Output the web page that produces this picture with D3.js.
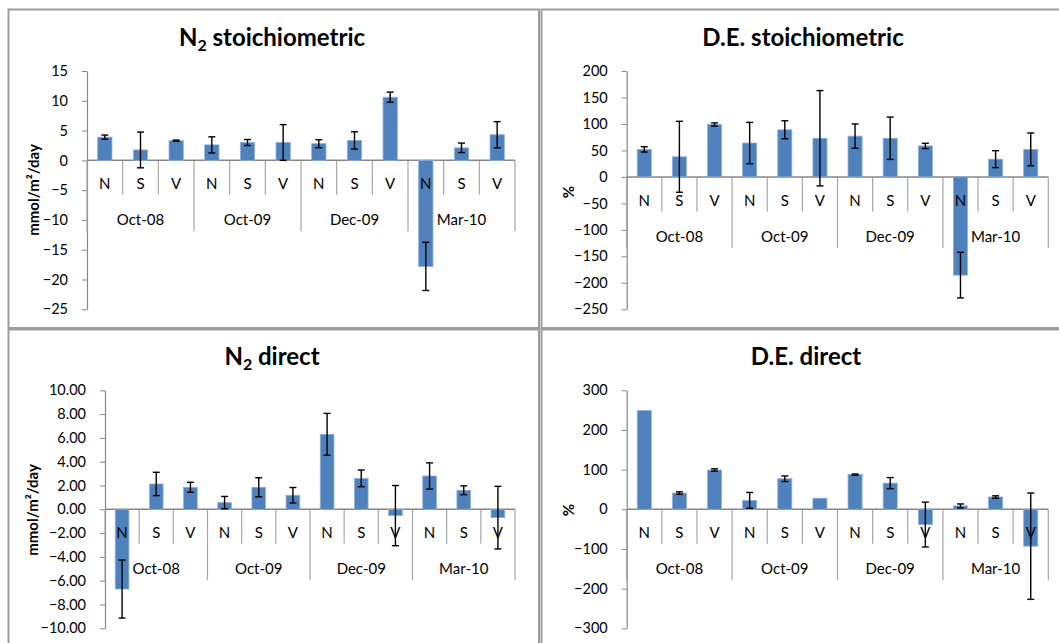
<!DOCTYPE html>
<html>
<head>
<meta charset="utf-8">
<script src="https://cdn.jsdelivr.net/npm/d3@7"></script>
<style>
  body { margin: 0; background: #fff; }
  svg { display: block; font-family: Lato, "Open Sans", sans-serif; }
</style>
</head>
<body>
<svg id="chart" width="1059" height="643"></svg>
<script>
const sites = ['N', 'S', 'V'];
const campaigns = ['Oct-08', 'Oct-09', 'Dec-09', 'Mar-10'];

// N2 stoichiometric (mmol/m2/day)
const n2StoichMean = [3.9, 1.75, 3.3, 2.6, 3.0, 3.0, 2.8, 3.35, 10.6, -17.8, 2.1, 4.3];
const n2StoichErr = [0.35, 3.0, 0.1, 1.35, 0.5, 3.0, 0.67, 1.45, 0.85, 4.05, 0.8, 2.2];
const n2StoichTicks = [15, 10, 5, 0, -5, -10, -15, -20, -25];

// D.E. stoichiometric (%)
const deStoichMean = [52, 38, 99, 64, 89, 73, 77, 73, 58.5, -185.5, 33.5, 52];
const deStoichErr = [5, 67, 3, 39, 17, 90, 23, 40, 5, 43, 16, 31];
const deStoichTicks = [200, 150, 100, 50, 0, -50, -100, -150, -200, -250];

// N2 direct (mmol/m2/day)
const n2DirectMean = [-6.7, 2.13, 1.85, 0.56, 1.85, 1.18, 6.3, 2.6, -0.53, 2.8, 1.6, -0.7];
const n2DirectErr = [2.44, 0.98, 0.42, 0.52, 0.8, 0.65, 1.76, 0.7, 2.53, 1.1, 0.37, 2.63];
const n2DirectTicks = [10, 8, 6, 4, 2, 0, -2, -4, -6, -8, -10];

// D.E. direct (%)
const deDirectMean = [249, 41, 99, 22.5, 77, 28, 87.5, 66, -38.5, 8.5, 31, -93];
const deDirectErr = [0, 3, 3, 20, 7, 0, 1.5, 14, 56.5, 5, 3, 134];
const deDirectTicks = [300, 200, 100, 0, -100, -200, -300];

const keys = campaigns.flatMap(c => sites.map(s => c + '|' + s));
const svg = d3.select('#chart');

const axisGrey = '#868686';
const barBlue = '#4f81bd';

const drawPanel = (o) => {
    const g = svg.append('g');

    // frame
    g.append('rect')
        .attr('x', o.frame[0]).attr('y', o.frame[1])
        .attr('width', o.frame[2]).attr('height', o.frame[3])
        .attr('fill', '#fff')
        .attr('stroke', '#9c9c9c')
        .attr('stroke-width', 2);

    const x = d3.scaleBand()
        .domain(keys)
        .range([o.x0, o.x1])
        .paddingInner(0.6)
        .paddingOuter(0.3);
    const step = x.step();

    const y = d3.scaleLinear()
        .domain([o.ticks[o.ticks.length - 1], o.ticks[0]])
        .range([o.yBot, o.yTop]);
    const y0 = y(0);

    // title
    const t = g.append('text')
        .attr('x', o.titleX).attr('y', o.titleY)
        .attr('text-anchor', 'middle')
        .attr('font-weight', 'bold')
        .attr('font-size', 24)
        .attr('fill', '#000');
    o.title.forEach(p => {
        const ts = t.append('tspan').text(p.text);
        if (p.sub) ts.attr('font-size', 16).attr('dy', 5);
        if (p.after) ts.attr('dy', -5);
    });

    // y axis title
    g.append('text')
        .attr('transform', `translate(${o.yTitleX},${o.yTitleY}) rotate(-90)`)
        .attr('text-anchor', 'middle')
        .attr('font-weight', 'bold')
        .attr('font-size', 15)
        .text(o.yTitle);

    // y axis
    const yAxis = d3.axisLeft(y)
        .tickValues(o.ticks)
        .tickFormat(o.fmt)
        .tickSizeInner(5)
        .tickSizeOuter(0)
        .tickPadding(14);
    const ya = g.append('g')
        .attr('transform', `translate(${o.x0},0)`)
        .call(yAxis);
    ya.select('.domain').attr('stroke', axisGrey).attr('stroke-width', 1.2);
    ya.selectAll('.tick line').attr('stroke', axisGrey);
    ya.selectAll('.tick text')
        .attr('font-size', 14.5)
        .attr('font-family', 'Lato, "Open Sans", sans-serif')
        .attr('fill', '#000');

    // category separators
    const bounds = d3.range(keys.length + 1);
    g.selectAll('.sep')
        .data(bounds)
        .enter()
        .append('line')
        .attr('x1', i => o.x0 + i * step)
        .attr('x2', i => o.x0 + i * step)
        .attr('y1', y0)
        .attr('y2', i => y0 + (i % 3 === 0 ? 71 : 34.5))
        .attr('stroke', '#a6a6a6')
        .attr('stroke-width', 1.2);

    // x axis line
    g.append('line')
        .attr('x1', o.x0).attr('x2', o.x1)
        .attr('y1', y0).attr('y2', y0)
        .attr('stroke', axisGrey)
        .attr('stroke-width', 1.5);

    // bars
    g.selectAll('.bar')
        .data(o.mean)
        .enter()
        .append('rect')
        .attr('x', (d, i) => x(keys[i]))
        .attr('width', x.bandwidth())
        .attr('y', d => Math.min(y(d), y0))
        .attr('height', d => Math.abs(y(d) - y0))
        .attr('fill', barBlue)
        .attr('stroke', '#8eb0da')
        .attr('stroke-width', 0.8);

    // site labels
    g.selectAll('.site')
        .data(keys)
        .enter()
        .append('text')
        .attr('x', k => x(k) + x.bandwidth() / 2)
        .attr('y', y0 + 29)
        .attr('text-anchor', 'middle')
        .attr('font-size', 15)
        .text(k => k.split('|')[1]);

    // campaign labels
    g.selectAll('.camp')
        .data(campaigns)
        .enter()
        .append('text')
        .attr('x', (c, i) => o.x0 + (i * 3 + 1.5) * step)
        .attr('y', y0 + 65)
        .attr('text-anchor', 'middle')
        .attr('font-size', 15)
        .text(c => c);

    // error bars
    const eb = g.selectAll('.err')
        .data(o.mean.map((m, i) => ({ m, e: o.err[i], k: keys[i] })).filter(d => d.e > 0))
        .enter()
        .append('g')
        .attr('stroke', '#000')
        .attr('stroke-width', 1.4);
    const cx = d => x(d.k) + x.bandwidth() / 2;
    eb.append('line')
        .attr('x1', cx).attr('x2', cx)
        .attr('y1', d => y(d.m + d.e))
        .attr('y2', d => y(d.m - d.e));
    [1, -1].forEach(s => {
        eb.append('line')
            .attr('x1', d => cx(d) - 3.5).attr('x2', d => cx(d) + 3.5)
            .attr('y1', d => y(d.m + s * d.e))
            .attr('y2', d => y(d.m + s * d.e));
    });
};

const n2Title = rest => [{ text: 'N' }, { text: '2', sub: true }, { text: ' ' + rest, after: true }];

drawPanel({
    frame: [8.5, 9.5, 530.5, 318.5],
    x0: 87, x1: 515, yTop: 71, yBot: 309.3,
    ticks: n2StoichTicks, fmt: d3.format('d'),
    mean: n2StoichMean, err: n2StoichErr,
    title: n2Title('stoichiometric'), titleX: 272, titleY: 46,
    yTitle: 'mmol/m²/day', yTitleX: 39, yTitleY: 190
});

drawPanel({
    frame: [541.5, 9.5, 525, 318.5],
    x0: 626.7, x1: 1048.3, yTop: 71, yBot: 309.3,
    ticks: deStoichTicks, fmt: d3.format('d'),
    mean: deStoichMean, err: deStoichErr,
    title: [{ text: 'D.E. stoichiometric' }], titleX: 803, titleY: 46,
    yTitle: '%', yTitleX: 574, yTitleY: 192
});

drawPanel({
    frame: [8.5, 329.5, 530.5, 330],
    x0: 105, x1: 515, yTop: 390.3, yBot: 628.3,
    ticks: n2DirectTicks, fmt: d3.format('.2f'),
    mean: n2DirectMean, err: n2DirectErr,
    title: n2Title('direct'), titleX: 272, titleY: 365,
    yTitle: 'mmol/m²/day', yTitleX: 38, yTitleY: 510
});

drawPanel({
    frame: [541.5, 329.5, 525, 330],
    x0: 626.7, x1: 1048.3, yTop: 390.3, yBot: 628.3,
    ticks: deDirectTicks, fmt: d3.format('d'),
    mean: deDirectMean, err: deDirectErr,
    title: [{ text: 'D.E. direct' }], titleX: 806, titleY: 365,
    yTitle: '%', yTitleX: 574, yTitleY: 510
});
</script>
</body>
</html>
